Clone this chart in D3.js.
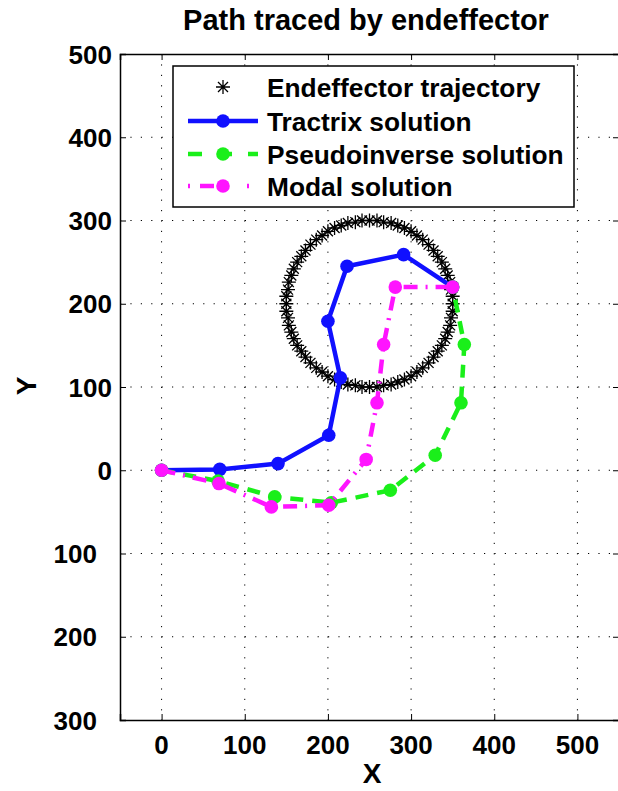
<!DOCTYPE html>
<html>
<head>
<meta charset="utf-8">
<script src="https://cdn.jsdelivr.net/npm/d3@7"></script>
<style>
  body { margin: 0; background: #fff; }
  svg { display: block; font-family: "Liberation Sans", Arial, Helvetica, sans-serif; font-weight: bold; }
</style>
</head>
<body>
<script>
"use strict";

// endeffector trajectory (asterisks on the circle)
const trajX = [350,350,348,347,344,341,337,332,327,321,314,307,300,292,284,276,267,259,
               250,241,233,224,216,208,200,193,186,179,173,168,163,159,156,153,152,150,
               150,150,152,153,156,159,163,168,173,179,186,193,200,208,216,224,233,241,
               250,259,267,276,284,292,300,307,314,321,327,332,337,341,344,347,348,350];
const trajY = [200,209,217,226,234,242,250,257,264,271,277,282,287,291,294,297,298,300,
               300,300,298,297,294,291,287,282,277,271,264,257,250,242,234,226,217,209,
               200,191,183,174,166,158,150,143,136,129,123,118,113,109,106,103,102,100,
               100,100,102,103,106,109,113,118,123,129,136,143,150,158,166,174,183,191];

// joint positions of each solution
const tractrixX = [0, 70, 140, 201, 215, 200, 223, 291, 350];
const tractrixY = [0, 1, 8, 42, 111, 179, 245, 259, 220];
const pseudoX = [0, 68, 136, 204, 275, 329, 360, 364, 350];
const pseudoY = [0, -13, -32, -39, -24, 18, 81, 151, 220];
const modalX = [0, 69, 132, 201, 246, 259, 267, 281, 350];
const modalY = [0, -16, -44, -42, 13, 81, 151, 220, 220];

const xTicks = [0, 100, 200, 300, 400, 500];
const yTicks = [-300, -200, -100, 0, 100, 200, 300, 400, 500];
const legendNames = ["Endeffector trajectory", "Tractrix solution", "Pseudoinverse solution", "Modal solution"];

(function(){
    const measurements = {
        width: 618,
        height: 791,
        left: 120,
        right: 619,
        top: 54,
        bottom: 720
    }

    const svg = d3.select("body").append("svg")
        .attr("width", measurements.width)
        .attr("height", measurements.height)

    const scaleX = d3.scaleLinear().domain([-50, 550]).range([measurements.left, measurements.right])
    const scaleY = d3.scaleLinear().domain([-300, 500]).range([measurements.bottom, measurements.top])

    // dotted grid
    svg.append("g").selectAll("line")
        .data(xTicks)
        .enter().append("line")
        .attr("x1", d => scaleX(d)).attr("x2", d => scaleX(d))
        .attr("y1", measurements.top).attr("y2", measurements.bottom)
        .attr("stroke", "#000").attr("stroke-width", 1)
        .attr("stroke-dasharray", "1.2,9.2")
    svg.append("g").selectAll("line")
        .data(yTicks.slice(1, -1))
        .enter().append("line")
        .attr("y1", d => scaleY(d)).attr("y2", d => scaleY(d))
        .attr("x1", measurements.left).attr("x2", measurements.right)
        .attr("stroke", "#000").attr("stroke-width", 1)
        .attr("stroke-dasharray", "1.2,9.2")

    // axes (ticks inside the box)
    const tickFmt = d => String(Math.abs(d))
    const xBottom = svg.append("g")
        .attr("transform", `translate(0,${measurements.bottom})`)
        .call(d3.axisTop(scaleX).tickValues(xTicks).tickSize(6).tickFormat(""))
    const xTop = svg.append("g")
        .attr("transform", `translate(0,${measurements.top})`)
        .call(d3.axisBottom(scaleX).tickValues(xTicks).tickSize(6).tickFormat(""))
    const yLeft = svg.append("g")
        .attr("transform", `translate(${measurements.left},0)`)
        .call(d3.axisRight(scaleY).tickValues(yTicks).tickSize(6).tickFormat(""))
    const yRight = svg.append("g")
        .attr("transform", `translate(${measurements.right},0)`)
        .call(d3.axisLeft(scaleY).tickValues(yTicks).tickSize(6).tickFormat(""))
    ;[xBottom, xTop, yLeft, yRight].forEach(g => {
        g.select(".domain").attr("stroke", "#000").attr("stroke-width", 1.5)
        g.selectAll(".tick line").attr("stroke", "#000")
    })

    // tick labels (minus sign not drawn, but it keeps its room)
    svg.append("g").selectAll("text")
        .data(xTicks)
        .enter().append("text")
        .attr("x", d => scaleX(d))
        .attr("y", measurements.bottom + 34)
        .attr("text-anchor", "middle")
        .style("font-size", "26px")
        .text(tickFmt)
    svg.append("g").selectAll("text")
        .data(yTicks)
        .enter().append("text")
        .attr("x", d => measurements.left - 8 - (d < 0 ? 15 : 0))
        .attr("y", d => scaleY(d) + 9.5)
        .attr("text-anchor", "end")
        .style("font-size", "26px")
        .text(tickFmt)

    // title & axis names
    svg.append("text")
        .attr("x", 366)
        .attr("y", 30)
        .attr("text-anchor", "middle")
        .style("font-size", "29px")
        .text("Path traced by endeffector")
    svg.append("text")
        .attr("x", 372)
        .attr("y", 783)
        .attr("text-anchor", "middle")
        .style("font-size", "28px")
        .text("X")
    svg.append("text")
        .attr("transform", "translate(36,386)rotate(-90)")
        .attr("text-anchor", "middle")
        .style("font-size", "28px")
        .text("Y")

    const asterisk = "M-7,0H7M0,-7V7M-5,-5L5,5M-5,5L5,-5"

    // trajectory asterisks
    svg.append("g").selectAll("path")
        .data(trajX.map((x, i) => [x, trajY[i]]))
        .enter().append("path")
        .attr("transform", d => `translate(${scaleX(d[0])},${scaleY(d[1])})`)
        .attr("d", asterisk)
        .attr("stroke", "#000").attr("stroke-width", 1.3).attr("fill", "none")

    const series = [
        { xs: tractrixX, ys: tractrixY, color: "#1010ff", dash: null },
        { xs: pseudoX, ys: pseudoY, color: "#1aef1a", dash: "13,9" },
        { xs: modalX, ys: modalY, color: "#ff14ff", dash: "14,8,2,8" }
    ]
    const line = d3.line().x(d => scaleX(d[0])).y(d => scaleY(d[1]))

    series.forEach(s => {
        const pts = s.xs.map((x, i) => [x, s.ys[i]])
        svg.append("path")
            .datum(pts)
            .attr("d", line)
            .attr("fill", "none")
            .attr("stroke", s.color)
            .attr("stroke-width", 4.5)
            .attr("stroke-dasharray", s.dash)
        svg.append("g").selectAll("circle")
            .data(pts)
            .enter().append("circle")
            .attr("cx", d => scaleX(d[0]))
            .attr("cy", d => scaleY(d[1]))
            .attr("r", 6.8)
            .attr("fill", s.color)
    })

    // legend
    const legend = svg.append("g")
    legend.append("rect")
        .attr("x", 173).attr("y", 66)
        .attr("width", 401).attr("height", 141)
        .attr("fill", "#fff").attr("stroke", "#000").attr("stroke-width", 1.5)
    const rowY = [87, 121, 154, 186]
    legend.append("path")
        .attr("transform", `translate(223,${rowY[0]})`)
        .attr("d", asterisk)
        .attr("stroke", "#000").attr("stroke-width", 1.3)
    series.forEach((s, i) => {
        legend.append("line")
            .attr("x1", 188).attr("x2", 258)
            .attr("y1", rowY[i + 1]).attr("y2", rowY[i + 1])
            .attr("stroke", s.color).attr("stroke-width", 4.5)
            .attr("stroke-dasharray", i === 0 ? null : (i === 1 ? "14,16" : "2,10,14,33"))
        legend.append("circle")
            .attr("cx", 223).attr("cy", rowY[i + 1]).attr("r", 6.8)
            .attr("fill", s.color)
    })
    legend.selectAll("text.lab")
        .data(legendNames)
        .enter().append("text")
        .attr("class", "lab")
        .attr("x", 267)
        .attr("y", (d, i) => rowY[i] + 9.5)
        .style("font-size", "26.3px")
        .text(d => d)
})()
</script>
</body>
</html>
